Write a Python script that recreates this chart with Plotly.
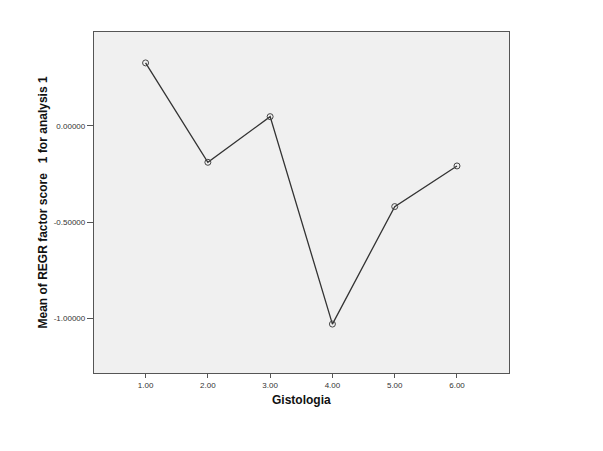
import plotly.graph_objects as go

categories = [1, 2, 3, 4, 5, 6]
tick_labels = ["1.00", "2.00", "3.00", "4.00", "5.00", "6.00"]
means = [0.326, -0.190, 0.047, -1.030, -0.420, -0.209]
y_ticks = [0.0, -0.5, -1.0]
y_tick_labels = ["0.00000", "-0.50000", "-1.00000"]

fig = go.Figure()
fig.add_trace(go.Scatter(
    x=categories, y=means, mode="lines+markers",
    line=dict(color="#333333", width=1.3),
    marker=dict(symbol="circle-open", size=6, color="#444444", line=dict(width=1)),
    showlegend=False,
))

fig.update_layout(
    width=595, height=443,
    margin=dict(l=86, r=94, t=24, b=78),
    paper_bgcolor="white", plot_bgcolor="#f0f0f0",
    font=dict(family="Liberation Sans, Arial, sans-serif", color="#222222"),
    xaxis=dict(
        range=[0.172, 6.835], tickvals=categories, ticktext=tick_labels,
        showgrid=False, zeroline=False, showline=True, mirror=True,
        linecolor="#555555", linewidth=1.3,
        ticks="outside", ticklen=4, tickcolor="#555555",
        tickfont=dict(size=8, color="#333333"),
    ),
    yaxis=dict(
        range=[-1.284, 0.4865], tickvals=y_ticks, ticktext=y_tick_labels,
        showgrid=False, zeroline=False, showline=True, mirror=True,
        linecolor="#555555", linewidth=1.3,
        ticks="outside", ticklen=6, tickcolor="#555555",
        tickfont=dict(size=8, color="#333333"),
    ),
    annotations=[
        dict(text="<b>Gistologia</b>", xref="paper", yref="paper", x=0.5, y=0,
             xanchor="center", yanchor="middle", yshift=-27, showarrow=False,
             font=dict(size=12, color="#111111")),
        dict(text="<b>Mean of REGR factor score\u00a0\u00a0\u00a01 for analysis 1</b>",
             xref="paper", yref="paper", x=0, y=0.5, textangle=-90,
             xanchor="center", yanchor="middle", xshift=-52, showarrow=False,
             font=dict(size=12, color="#111111")),
    ],
)

fig.write_html("out.html")
